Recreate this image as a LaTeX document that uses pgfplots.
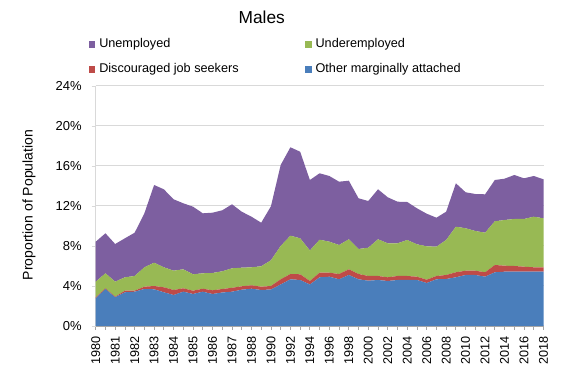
\documentclass[border=0pt]{standalone}
\usepackage{pgfplots}
\pgfplotsset{compat=1.18}
\usepackage{pgfplotstable}
\usepackage{fontspec}
\setmainfont{Liberation Sans}
\definecolor{cOther}{HTML}{4A7EBB}
\definecolor{cDisc}{HTML}{BE4B48}
\definecolor{cUnder}{HTML}{98B954}
\definecolor{cUnemp}{HTML}{7D5FA0}
\definecolor{gridc}{HTML}{D9D9D9}
\definecolor{axc}{HTML}{A6A6A6}

\pgfplotstableread{
i other disc under unemp
0 2.77 0.10 1.56 4.00
1 3.70 0.07 1.50 4.00
2 2.87 0.06 1.50 3.77
3 3.37 0.16 1.34 3.90
4 3.43 0.10 1.47 4.33
5 3.70 0.23 1.94 5.40
6 3.67 0.33 2.33 7.77
7 3.37 0.50 2.00 7.80
8 3.10 0.50 1.93 7.14
9 3.43 0.34 1.90 6.60
10 3.20 0.33 1.64 6.76
11 3.43 0.30 1.54 6.00
12 3.20 0.37 1.73 6.03
13 3.35 0.35 1.77 6.10
14 3.43 0.39 1.95 6.40
15 3.63 0.34 1.86 5.60
16 3.73 0.34 1.80 5.06
17 3.60 0.33 2.04 4.36
18 3.65 0.35 2.57 5.40
19 4.15 0.52 3.33 8.10
20 4.67 0.53 3.83 8.84
21 4.60 0.57 3.60 8.66
22 4.15 0.35 3.05 7.05
23 4.87 0.46 3.30 6.64
24 4.93 0.40 3.10 6.57
25 4.67 0.53 2.90 6.33
26 5.10 0.57 3.00 5.86
27 4.67 0.53 2.50 5.07
28 4.53 0.47 2.83 4.67
29 4.60 0.40 3.67 5.00
30 4.50 0.37 3.40 4.60
31 4.60 0.40 3.27 4.16
32 4.60 0.40 3.60 3.80
33 4.60 0.33 3.24 3.60
34 4.30 0.33 3.34 3.26
35 4.67 0.33 2.93 2.90
36 4.70 0.40 3.50 2.83
37 4.87 0.50 4.56 4.34
38 5.10 0.43 4.24 3.60
39 5.10 0.43 3.97 3.70
40 4.93 0.44 3.96 3.84
41 5.37 0.73 4.37 4.13
42 5.43 0.60 4.57 4.13
43 5.43 0.57 4.70 4.40
44 5.43 0.50 4.77 4.07
45 5.43 0.44 5.06 4.07
46 5.43 0.44 4.90 3.90
}\males

\begin{document}
\begin{tikzpicture}
\useasboundingbox (0,0) rectangle (438pt,285.75pt);
\begin{axis}[
  at={(71.78pt,41.25pt)}, anchor=south west,
  scale only axis, width=335.85pt, height=180pt,
  xmin=0, xmax=46, ymin=0, ymax=24,
  stack plots=y,
  axis x line*=bottom, axis y line*=left,
  x axis line style={axc, line width=0.6pt, -},
  y axis line style={gridc, line width=0.6pt, -},
  tick align=outside, major tick length=3pt,
  xtick style={axc, line width=0.6pt},
  ytick style={gridc, line width=0.6pt},
  ymajorgrids, major grid style={gridc, line width=0.75pt},
  xtick={0,1,...,46},
  xticklabels={1980,,1981,,1982,,1983,,1984,,1985,,1986,,1987,,1988,,1990,,1992,,1994,,1996,,1998,,2000,,2002,,2004,,2006,,2008,,2010,,2012,,2014,,2016,,2018},
  xticklabel style={font=\fontsize{9.5}{11}\selectfont, inner sep=0pt, yshift=-4.7pt, rotate=90, anchor=east},
  ytick={0,4,...,24},
  yticklabels={0\%,4\%,8\%,12\%,16\%,20\%,24\%},
  yticklabel style={font=\fontsize{9.75}{11}\selectfont, inner sep=0pt, anchor=east, xshift=-7.3pt},
  ylabel={Proportion of Population},
  ylabel style={at={(axis description cs:-0.149,0.504)}, anchor=center, font=\fontsize{10.5}{12}\selectfont},
  title={Males},
  title style={at={(axis description cs:0.3707,1.252)}, anchor=center, font=\fontsize{13}{15}\selectfont},
  reverse legend,
  legend columns=2,
  legend cell align=left,
  legend image code/.code={\fill[#1] (0pt,-2.35pt) rectangle (4.7pt,2.35pt);},
  legend style={draw=none, fill=none, inner sep=0pt, outer sep=0pt,
    at={(axis description cs:-0.015,1.198)}, anchor=north west,
    font=\fontsize{9.5}{11}\selectfont,
    nodes={inner sep=0pt, text height=7pt, text depth=2pt},
    row sep=9.75pt,
    /tikz/every odd column/.append style={column sep=3pt},
    /tikz/column 2/.style={column sep=50pt}},
]
\addplot[fill=cOther, draw=none] table[x=i, y=other]{\males} \closedcycle;
\addlegendentry{Other marginally attached}
\addplot[fill=cDisc, draw=none] table[x=i, y=disc]{\males} \closedcycle;
\addlegendentry{Discouraged job seekers}
\addplot[fill=cUnder, draw=none] table[x=i, y=under]{\males} \closedcycle;
\addlegendentry{Underemployed}
\addplot[fill=cUnemp, draw=none] table[x=i, y=unemp]{\males} \closedcycle;
\addlegendentry{Unemployed}
\end{axis}
\end{tikzpicture}
\end{document}
